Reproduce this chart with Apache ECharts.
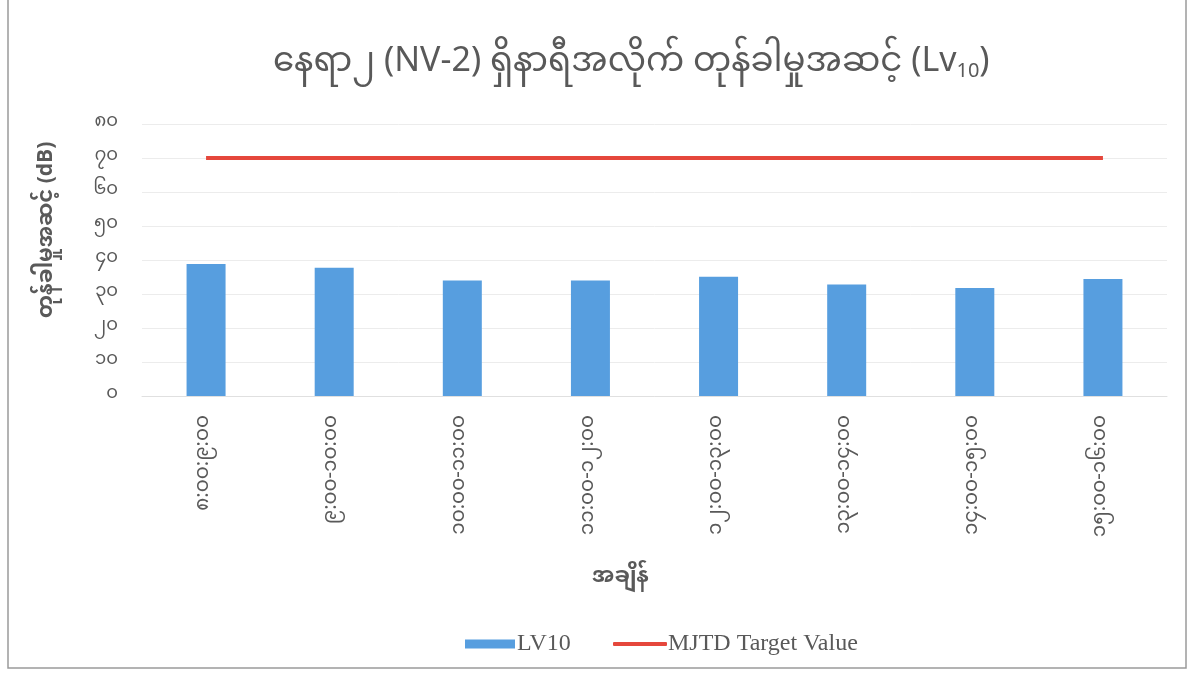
<!DOCTYPE html>
<html>
<head>
<meta charset="utf-8">
<script src="https://cdn.jsdelivr.net/npm/echarts@6/dist/echarts.min.js"></script>
<style>
  html, body { margin: 0; padding: 0; background: #ffffff; }
  #chart { width: 1194px; height: 677px; }
</style>
</head>
<body>
<div id="chart"></div>
<script>
// Hourly time slots (Myanmar numerals)
const categories = [
  '၈:၀၀:၉:၀၀',
  '၉:၀၀-၁၀:၀၀',
  '၁၀:၀၀-၁၁:၀၀',
  '၁၁:၀၀-၁၂:၀၀',
  '၁၂:၀၀-၁၃:၀၀',
  '၁၃:၀၀-၁၄:၀၀',
  '၁၄:၀၀-၁၅:၀၀',
  '၁၅:၀၀-၁၆:၀၀'
];
// Measured Lv10 vibration level per hour (dB)
const lv10Values = [38.8, 37.7, 34.0, 34.0, 35.1, 32.8, 31.8, 34.4];
// MJTD target value (dB)
const targetValues = [70, 70, 70, 70, 70, 70, 70, 70];
// Y-axis tick labels in Myanmar digits, indexed by value / 10
const yTickLabels = ['၀', '၁၀', '၂၀', '၃၀', '၄၀', '၅၀', '၆၀', '၇၀', '၈၀'];

const myFont = '"Noto Sans Myanmar", "Noto Sans", "DejaVu Sans", sans-serif';
const serif = '"Liberation Serif", "Times New Roman", serif';
const grey = '#595959';

const chart = echarts.init(document.getElementById('chart'));
chart.setOption({
  backgroundColor: '#ffffff',
  animation: false,
  graphic: [{
    type: 'rect',
    shape: { x: 8, y: -2, width: 1178, height: 670 },
    style: { fill: 'none', stroke: '#9a9a9a', lineWidth: 1.5 },
    silent: true
  }],
  title: {
    text: 'နေရာ၂ (NV-2) ရှိနာရီအလိုက် တုန်ခါမှုအဆင့် (Lv{sub|10})',
    left: 268,
    top: 44,
    textStyle: {
      color: grey,
      fontSize: 34,
      fontWeight: 'normal',
      fontFamily: myFont,
      rich: {
        sub: { fontSize: 20, color: grey, fontFamily: myFont, padding: [16, 0, 0, 0] }
      }
    }
  },
  grid: { left: 142, right: 27, top: 124, bottom: 281, containLabel: false },
  xAxis: {
    type: 'category',
    data: categories,
    boundaryGap: true,
    name: 'အချိန်',
    nameLocation: 'middle',
    nameGap: 173,
    nameTextStyle: {
      color: grey, fontSize: 22, fontWeight: 'bold', fontFamily: myFont,
      padding: [0, 68, 0, 0]
    },
    axisLine: { show: true, lineStyle: { color: '#e0e0e0', width: 1 } },
    axisTick: { show: false },
    axisLabel: {
      rotate: 90,
      color: grey,
      fontSize: 20,
      fontFamily: myFont,
      margin: 19
    }
  },
  yAxis: {
    type: 'value',
    min: 0,
    max: 80,
    interval: 10,
    name: 'တုန်ခါမှုအဆင့် (dB)',
    nameLocation: 'middle',
    nameGap: 82,
    nameRotate: 90,
    nameTextStyle: {
      color: grey, fontSize: 21, fontWeight: 'bold', fontFamily: myFont,
      padding: [0, 0, 0, 60]
    },
    axisLine: { show: false },
    axisTick: { show: false },
    splitLine: { lineStyle: { color: '#ececec', width: 1 } },
    axisLabel: {
      color: grey,
      fontSize: 18,
      fontFamily: myFont,
      margin: 24,
      formatter: v => yTickLabels[Math.round(v / 10)]
    }
  },
  legend: [{
    data: [{ name: 'LV10', icon: 'rect' }],
    left: 460,
    top: 627,
    itemWidth: 50,
    itemHeight: 9,
    itemGap: 4,
    textStyle: { color: grey, fontSize: 24, fontFamily: serif, padding: [0, 0, 0, -3] }
  }, {
    data: [{ name: 'MJTD Target Value', icon: 'roundRect' }],
    left: 608,
    top: 627,
    itemWidth: 54,
    itemHeight: 4,
    textStyle: { color: grey, fontSize: 24, fontFamily: serif, padding: [0, 0, 0, -4] }
  }],
  series: [{
    name: 'LV10',
    type: 'bar',
    data: lv10Values,
    barWidth: 39,
    itemStyle: { color: '#579EDF' }
  }, {
    name: 'MJTD Target Value',
    type: 'line',
    data: targetValues,
    symbol: 'none',
    lineStyle: { color: '#E5473C', width: 4 },
    itemStyle: { color: '#E5473C' }
  }]
});
</script>
</body>
</html>
